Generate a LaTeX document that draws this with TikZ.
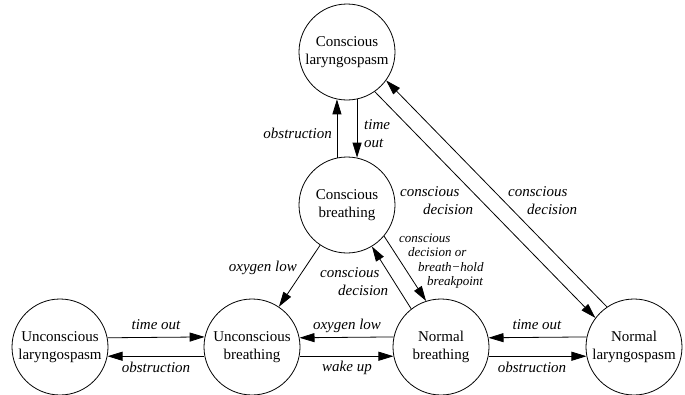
\documentclass[tikz,border=0pt]{standalone}
\usepackage{fontspec}
\setmainfont{Liberation Serif}
\usetikzlibrary{arrows.meta}
\begin{document}
\begin{tikzpicture}[x=1pt,y=-1pt,
 state/.style={circle,draw,line width=0.8pt,minimum size=96pt,inner sep=0pt,align=center,font=\fontsize{15}{18}\selectfont},
 lab/.style={font=\itshape\fontsize{15}{18}\selectfont,inner sep=0pt,align=left},
 smalllab/.style={font=\itshape\fontsize{13}{14.4}\selectfont,inner sep=0pt,align=left},
 arr/.style={line width=0.8pt,-{Triangle[length=15pt,width=9pt]}}]
\useasboundingbox (0,0) rectangle (685,394);
% states
\node[state] (CL) at (347,52) {Conscious\\laryngospasm};
\node[state] (CB) at (347,205) {Conscious\\breathing};
\node[state] (UL) at (60,347) {Unconscious\\laryngospasm};
\node[state] (UB) at (252,347) {Unconscious\\breathing};
\node[state] (NB) at (441,347) {Normal\\breathing};
\node[state] (NL) at (634,347) {Normal\\laryngospasm};
% connectors
\draw[arr] (CB.102) -- (CL.-102);
\draw[arr] (CL.-78) -- (CB.78);
\draw[arr] (CL.-55.4) -- (NL.143.8);
\draw[arr] (NL.124.6) -- (CL.-36.2);
\draw[arr] (CB.-40) -- (NB.108);
\draw[arr] (NB.128) -- (CB.-59);
\draw[arr] (CB) -- (UB);
\draw[arr] (UL.11.4) -- (UB.168.6);
\draw[arr] (UB.191.4) -- (UL.-11.4);
\draw[arr] (NB.168.6) -- (UB.11.4);
\draw[arr] (UB.-11.4) -- (NB.191.4);
\draw[arr] (NL.168.6) -- (NB.11.4);
\draw[arr] (NB.-11.4) -- (NL.191.4);
% labels
\node[lab,anchor=east] (l1) at (332,133) {obstruction};
\node[lab,anchor=west] (l2) at (364,134) {time\\out};
\node[lab,anchor=west] (l3) at (400,201) {conscious\\\hspace*{23pt}decision};
\node[lab,anchor=west] (l4) at (508,201) {conscious\\\hspace*{19pt}decision};
\node[smalllab,anchor=west] (l5) at (399,261) {conscious\\\hspace*{9pt}decision or\\\hspace*{19pt}breath−hold\\\hspace*{28pt}breakpoint};
\node[lab,anchor=west] (l6) at (320,282) {conscious\\\hspace*{18pt}decision};
\node[lab,anchor=east] (l7) at (297,268) {oxygen low};
\node[lab] (l8) at (156,325) {time out};
\node[lab] (l9) at (156,367) {obstruction};
\node[lab] (l10) at (347,326) {oxygen low};
\node[lab] (l11) at (347,368) {wake up};
\node[lab] (l12) at (537,325) {time out};
\node[lab] (l13) at (532,367) {obstruction};
\end{tikzpicture}
\end{document}
